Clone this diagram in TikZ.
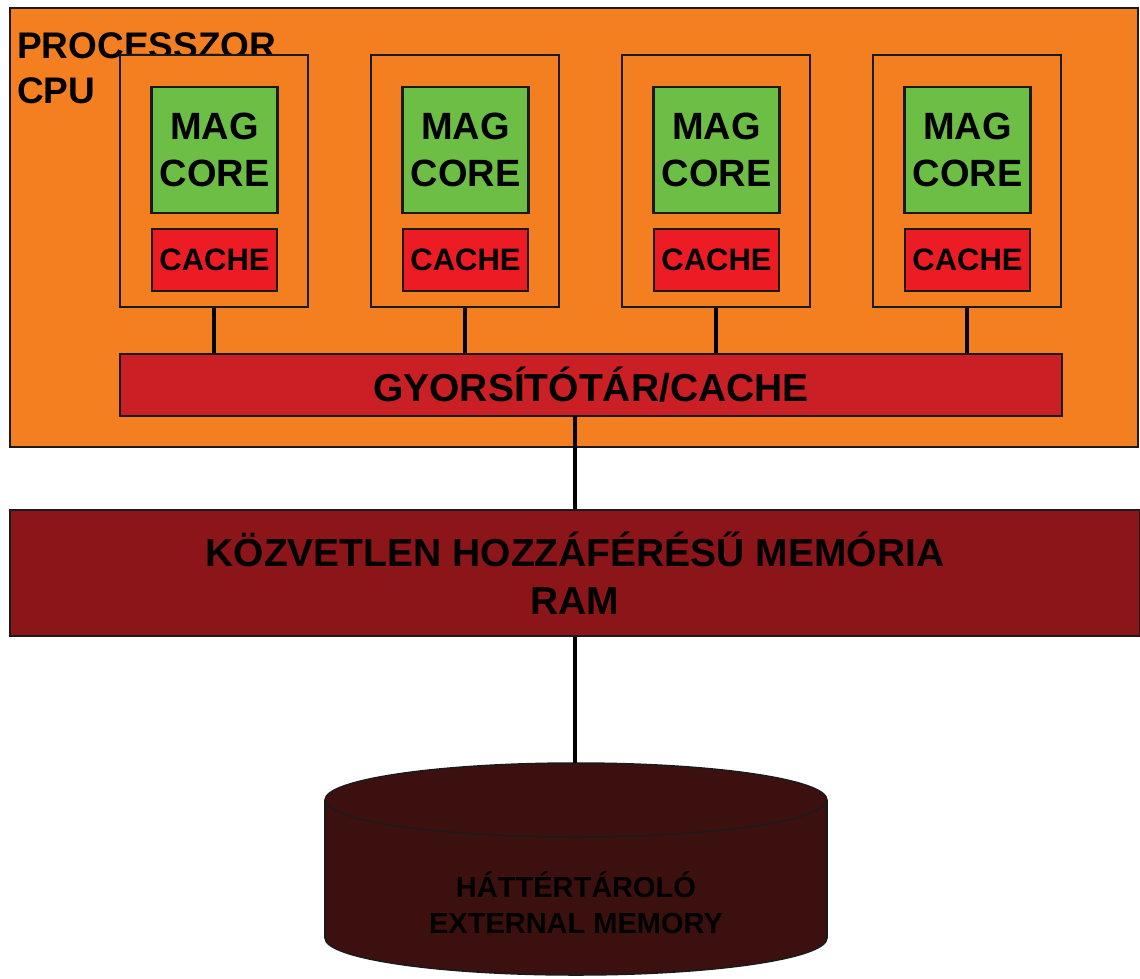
\documentclass[tikz,border=0pt]{standalone}
\usepackage{fontspec}
\setmainfont{Liberation Sans}
\definecolor{cpuorange}{HTML}{F47F21}
\definecolor{coregreen}{HTML}{6DBE45}
\definecolor{cachered}{HTML}{ED1C24}
\definecolor{busred}{HTML}{CA1F25}
\definecolor{ramred}{HTML}{8C1519}
\definecolor{diskred}{HTML}{3D1010}
\definecolor{edge}{HTML}{1A1A1A}
\tikzset{
  box/.style={draw=edge, line width=2.5pt, rectangle, inner sep=0pt, align=center, font=\bfseries},
  corebox/.style={box, fill=cpuorange, minimum width=188pt, minimum height=252pt},
  magbox/.style={box, fill=coregreen, minimum width=126pt, minimum height=126pt, font=\fontsize{38}{47}\selectfont\bfseries},
  cachebox/.style={box, line width=2pt, fill=cachered, minimum width=125pt, minimum height=62pt, font=\fontsize{31}{36}\selectfont\bfseries},
  conn/.style={draw=black, line width=3.5pt},
}
\begin{document}
\begin{tikzpicture}[x=1pt,y=-1pt]
\useasboundingbox[fill=white] (0,0) rectangle (1140,978);
% CPU
\node[box, fill=cpuorange, minimum width=1128pt, minimum height=439pt] (cpu) at (574,227.5) {};
\node[anchor=base west, inner sep=0pt, align=left, font=\fontsize{37}{45}\selectfont\bfseries] (cpulabel) at (17,103) {PROCESSZOR\\CPU};
% cores
\foreach \i/\x in {1/214,2/465,3/716,4/967}{
  \node[corebox] (core\i) at (\x,181) {};
  \node[magbox] (mag\i) at (\x+0.5,150) {MAG\\CORE};
  \node[cachebox] (cache\i) at (\x+0.5,260) {CACHE};
}
% bus
\node[box, fill=busred, minimum width=942pt, minimum height=62pt, font=\fontsize{39}{44}\selectfont\bfseries] (bus) at (591,385) {GYORSÍTÓTÁR/CACHE};
\foreach \i in {1,2,3,4}{
  \draw[conn] (core\i.south) -- (core\i.south |- bus.north);
}
% RAM
\node[box, fill=ramred, minimum width=1130pt, minimum height=126pt, font=\fontsize{39}{48}\selectfont\bfseries] (ram) at (575,573) {KÖZVETLEN HOZZÁFÉRÉSŰ MEMÓRIA\\RAM};
\coordinate (busout) at (575,416);
\draw[conn] (busout) -- (busout |- ram.north);
% disk cylinder
\coordinate (disktop) at (575,763);
\fill[diskred, draw=edge, line width=1.5pt] (576,938) ellipse [x radius=251, y radius=37];
\fill[diskred] (325,800) rectangle (827,938);
\draw[edge, line width=1.5pt] (325,800) -- (325,938);
\draw[edge, line width=1.5pt] (827,800) -- (827,938);
\fill[diskred, draw=edge, line width=1.5pt] (576,800) ellipse [x radius=251, y radius=37];
\node[align=center, inner sep=0pt, font=\fontsize{29}{36}\selectfont\bfseries, text=black] (disk) at (576,903) {HÁTTÉRTÁROLÓ\\EXTERNAL MEMORY};
\draw[conn] (ram.south -| disktop) -- (disktop);
\end{tikzpicture}
\end{document}
